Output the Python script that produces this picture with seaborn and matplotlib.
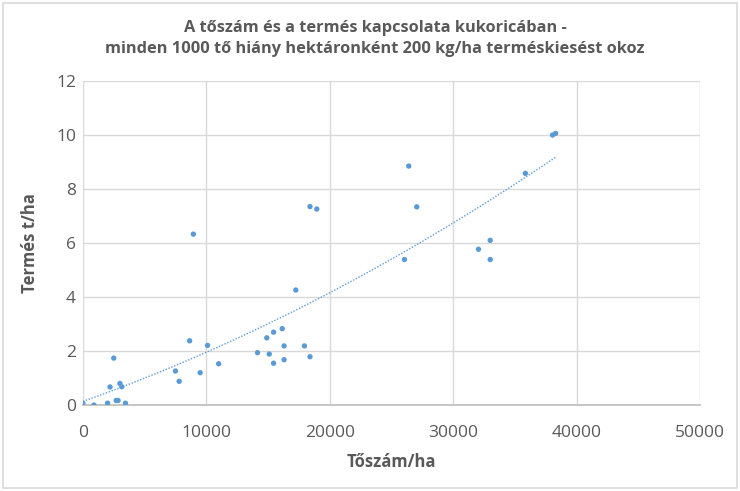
import matplotlib
matplotlib.use("Agg")
import matplotlib.pyplot as plt
import matplotlib.patches as mpatches
import seaborn as sns
import numpy as np

# Plant count per hectare vs yield (t/ha)
toszam = [0, 900, 2000, 2200, 2500, 2700, 2850, 3000, 3150, 3450,
          7500, 7800, 8650, 8950, 9500, 10100, 11000,
          14150, 14900, 15100, 15450, 15450, 16150, 16300, 16300,
          17250, 17950, 18400, 18400, 18950,
          26050, 26400, 27050, 32050, 33000, 33000, 35850, 38050, 38300]
termes = [0.07, 0.0, 0.07, 0.67, 1.74, 0.17, 0.17, 0.8, 0.68, 0.07,
          1.26, 0.88, 2.38, 6.33, 1.2, 2.21, 1.53,
          1.94, 2.49, 1.89, 2.7, 1.55, 2.83, 2.19, 1.68,
          4.26, 2.19, 1.79, 7.35, 7.26,
          5.39, 8.85, 7.34, 5.77, 6.1, 5.39, 8.58, 10.0, 10.06]

x_ticks = [0, 10000, 20000, 30000, 40000, 50000]
y_ticks = [0, 2, 4, 6, 8, 10, 12]

title = "A tőszám és a termés kapcsolata kukoricában -\nminden 1000 tő hiány hektáronként 200 kg/ha terméskiesést okoz"

sns.set_theme(style="white")
plt.rcParams['font.family'] = ['Open Sans', 'DejaVu Sans']
text_col = "#595959"
blue = "#5b9bd5"

fig = plt.figure(figsize=(7.4, 4.91), dpi=100)
ax = fig.add_axes([0.112, 0.175, 0.834, 0.66])

sns.scatterplot(x=toszam, y=termes, ax=ax, color=blue, s=15, edgecolor="none", zorder=3)
sns.regplot(x=toszam, y=termes, ax=ax, order=2, ci=None, scatter=False,
            line_kws=dict(color=blue, lw=1.0, ls=(0, (1, 1.2))))

ax.set_xlim(0, 50000)
ax.set_ylim(0, 12)
ax.set_xticks(x_ticks)
ax.set_yticks(y_ticks)
ax.set_xticklabels([str(v) for v in x_ticks])
ax.set_yticklabels([str(v) for v in y_ticks])
ax.grid(True, color="#d9d9d9", lw=1)
ax.set_axisbelow(True)
for s in ["top", "right", "left"]:
    ax.spines[s].set_visible(False)
ax.spines["bottom"].set_color("#bfbfbf")
ax.tick_params(axis="both", length=0, labelsize=12.5, colors=text_col)
ax.tick_params(axis="x", pad=14)
ax.tick_params(axis="y", pad=5)

ax.set_xlabel("Tőszám/ha", fontsize=12, fontweight="bold", color=text_col, labelpad=9)
ax.set_ylabel("Termés t/ha", fontsize=12, fontweight="bold", color=text_col, labelpad=12)
fig.text(0.507, 0.922, title, ha="center", va="center", fontsize=11.8,
         fontweight="bold", color=text_col, linespacing=1.4)

fig.patches.append(mpatches.Rectangle((0.004, 0.006), 0.992, 0.988, transform=fig.transFigure,
                                      fill=False, edgecolor="#d9d9d9", lw=1.2))

fig.savefig("out.png", dpi=100)
